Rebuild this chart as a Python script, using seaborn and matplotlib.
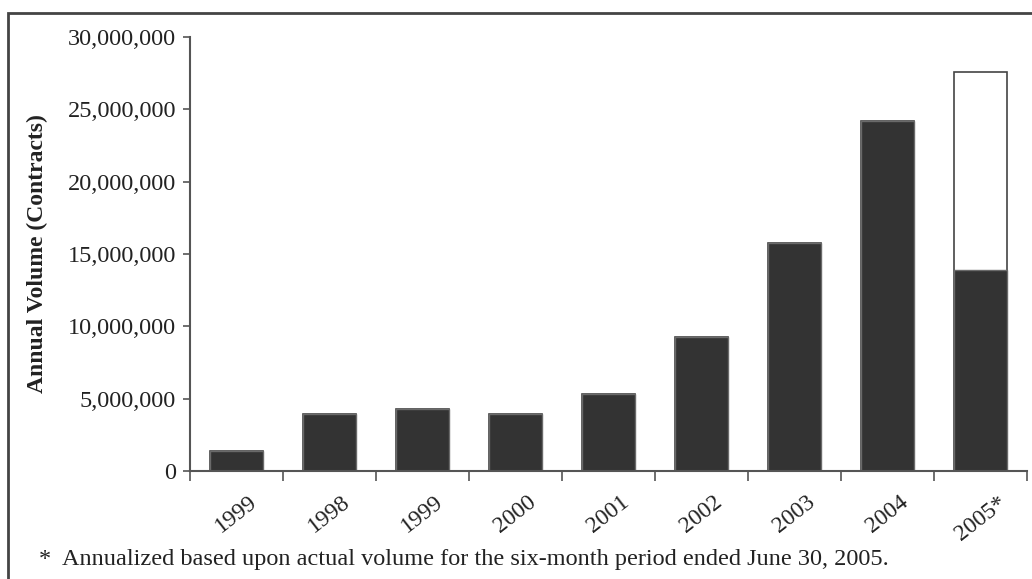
import matplotlib
matplotlib.use("Agg")
import matplotlib.pyplot as plt
from matplotlib.ticker import FuncFormatter, FixedLocator
from matplotlib.patches import Rectangle
import numpy as np
import seaborn as sns

# data (contracts)
years = ["1999", "1998", "1999", "2000", "2001", "2002", "2003", "2004", "2005*"]
actual = [1.38e6, 3.97e6, 4.32e6, 3.94e6, 5.35e6, 9.24e6, 15.75e6, 24.2e6, 13.88e6]
annualized = [1.38e6, 3.97e6, 4.32e6, 3.94e6, 5.35e6, 9.24e6, 15.75e6, 24.2e6, 27.55e6]
y_ticks = [0, 5e6, 10e6, 15e6, 20e6, 25e6, 30e6]
footnote = "*  Annualized based upon actual volume for the six-month period ended June 30, 2005."

sns.set_style("white")
plt.rcParams["font.family"] = ["Liberation Serif", "DejaVu Serif"]

fig = plt.figure(figsize=(10.32, 5.79), dpi=100)
ax = fig.add_axes([0.1841, 0.1865, 0.8111, 0.7496])

pos = np.arange(len(years))
# annualized total (white) drawn first, actual volume (dark) on top
sns.barplot(x=pos, y=annualized, color="white", edgecolor="#444444",
            linewidth=1.2, width=0.575, saturation=1, ax=ax)
sns.barplot(x=pos, y=actual, color="#333333", edgecolor="#6a6a6a",
            linewidth=1.0, width=0.575, saturation=1, ax=ax)

ax.set_xlim(-0.5, len(years) - 0.5)
ax.set_ylim(0, 30e6)

for s in ["top", "right"]:
    ax.spines[s].set_visible(False)
for s in ["left", "bottom"]:
    ax.spines[s].set_color("#555555")
    ax.spines[s].set_linewidth(1.5)

ax.yaxis.set_major_locator(FixedLocator(y_ticks))
ax.yaxis.set_major_formatter(FuncFormatter(lambda v, p: f"{int(v):,}"))
ax.tick_params(axis="y", direction="out", length=5, width=1.2, color="#555555",
               pad=5, labelsize=17.5, labelcolor="#222222", left=True)

# category labels at bar centres, tick marks at boundaries
ax.set_xticks(pos)
ax.set_xticklabels(years, rotation=38, ha="center", va="top")
ax.tick_params(axis="x", which="major", length=0, pad=15, labelsize=17,
               labelcolor="#222222")
ax.set_xticks(np.arange(len(years) + 1) - 0.5, minor=True)
ax.tick_params(axis="x", which="minor", direction="out", length=7, width=1.2,
               color="#555555", bottom=True)

ax.set_xlabel("")
ax.set_ylabel("Annual Volume (Contracts)", fontsize=17, fontweight="bold",
              color="#222222")
ax.yaxis.set_label_coords(-0.17, 0.5)
ax.grid(False)

fig.text(0.038, 0.033, footnote, fontsize=17.5, color="#222222",
         ha="left", va="center")

# frame around the figure (cropped at right and bottom)
fig.add_artist(Rectangle((0.0078, -0.2), 1.2, 1.1775, transform=fig.transFigure,
                         fill=False, edgecolor="#444444", linewidth=2))

fig.savefig("out.png", dpi=100)
